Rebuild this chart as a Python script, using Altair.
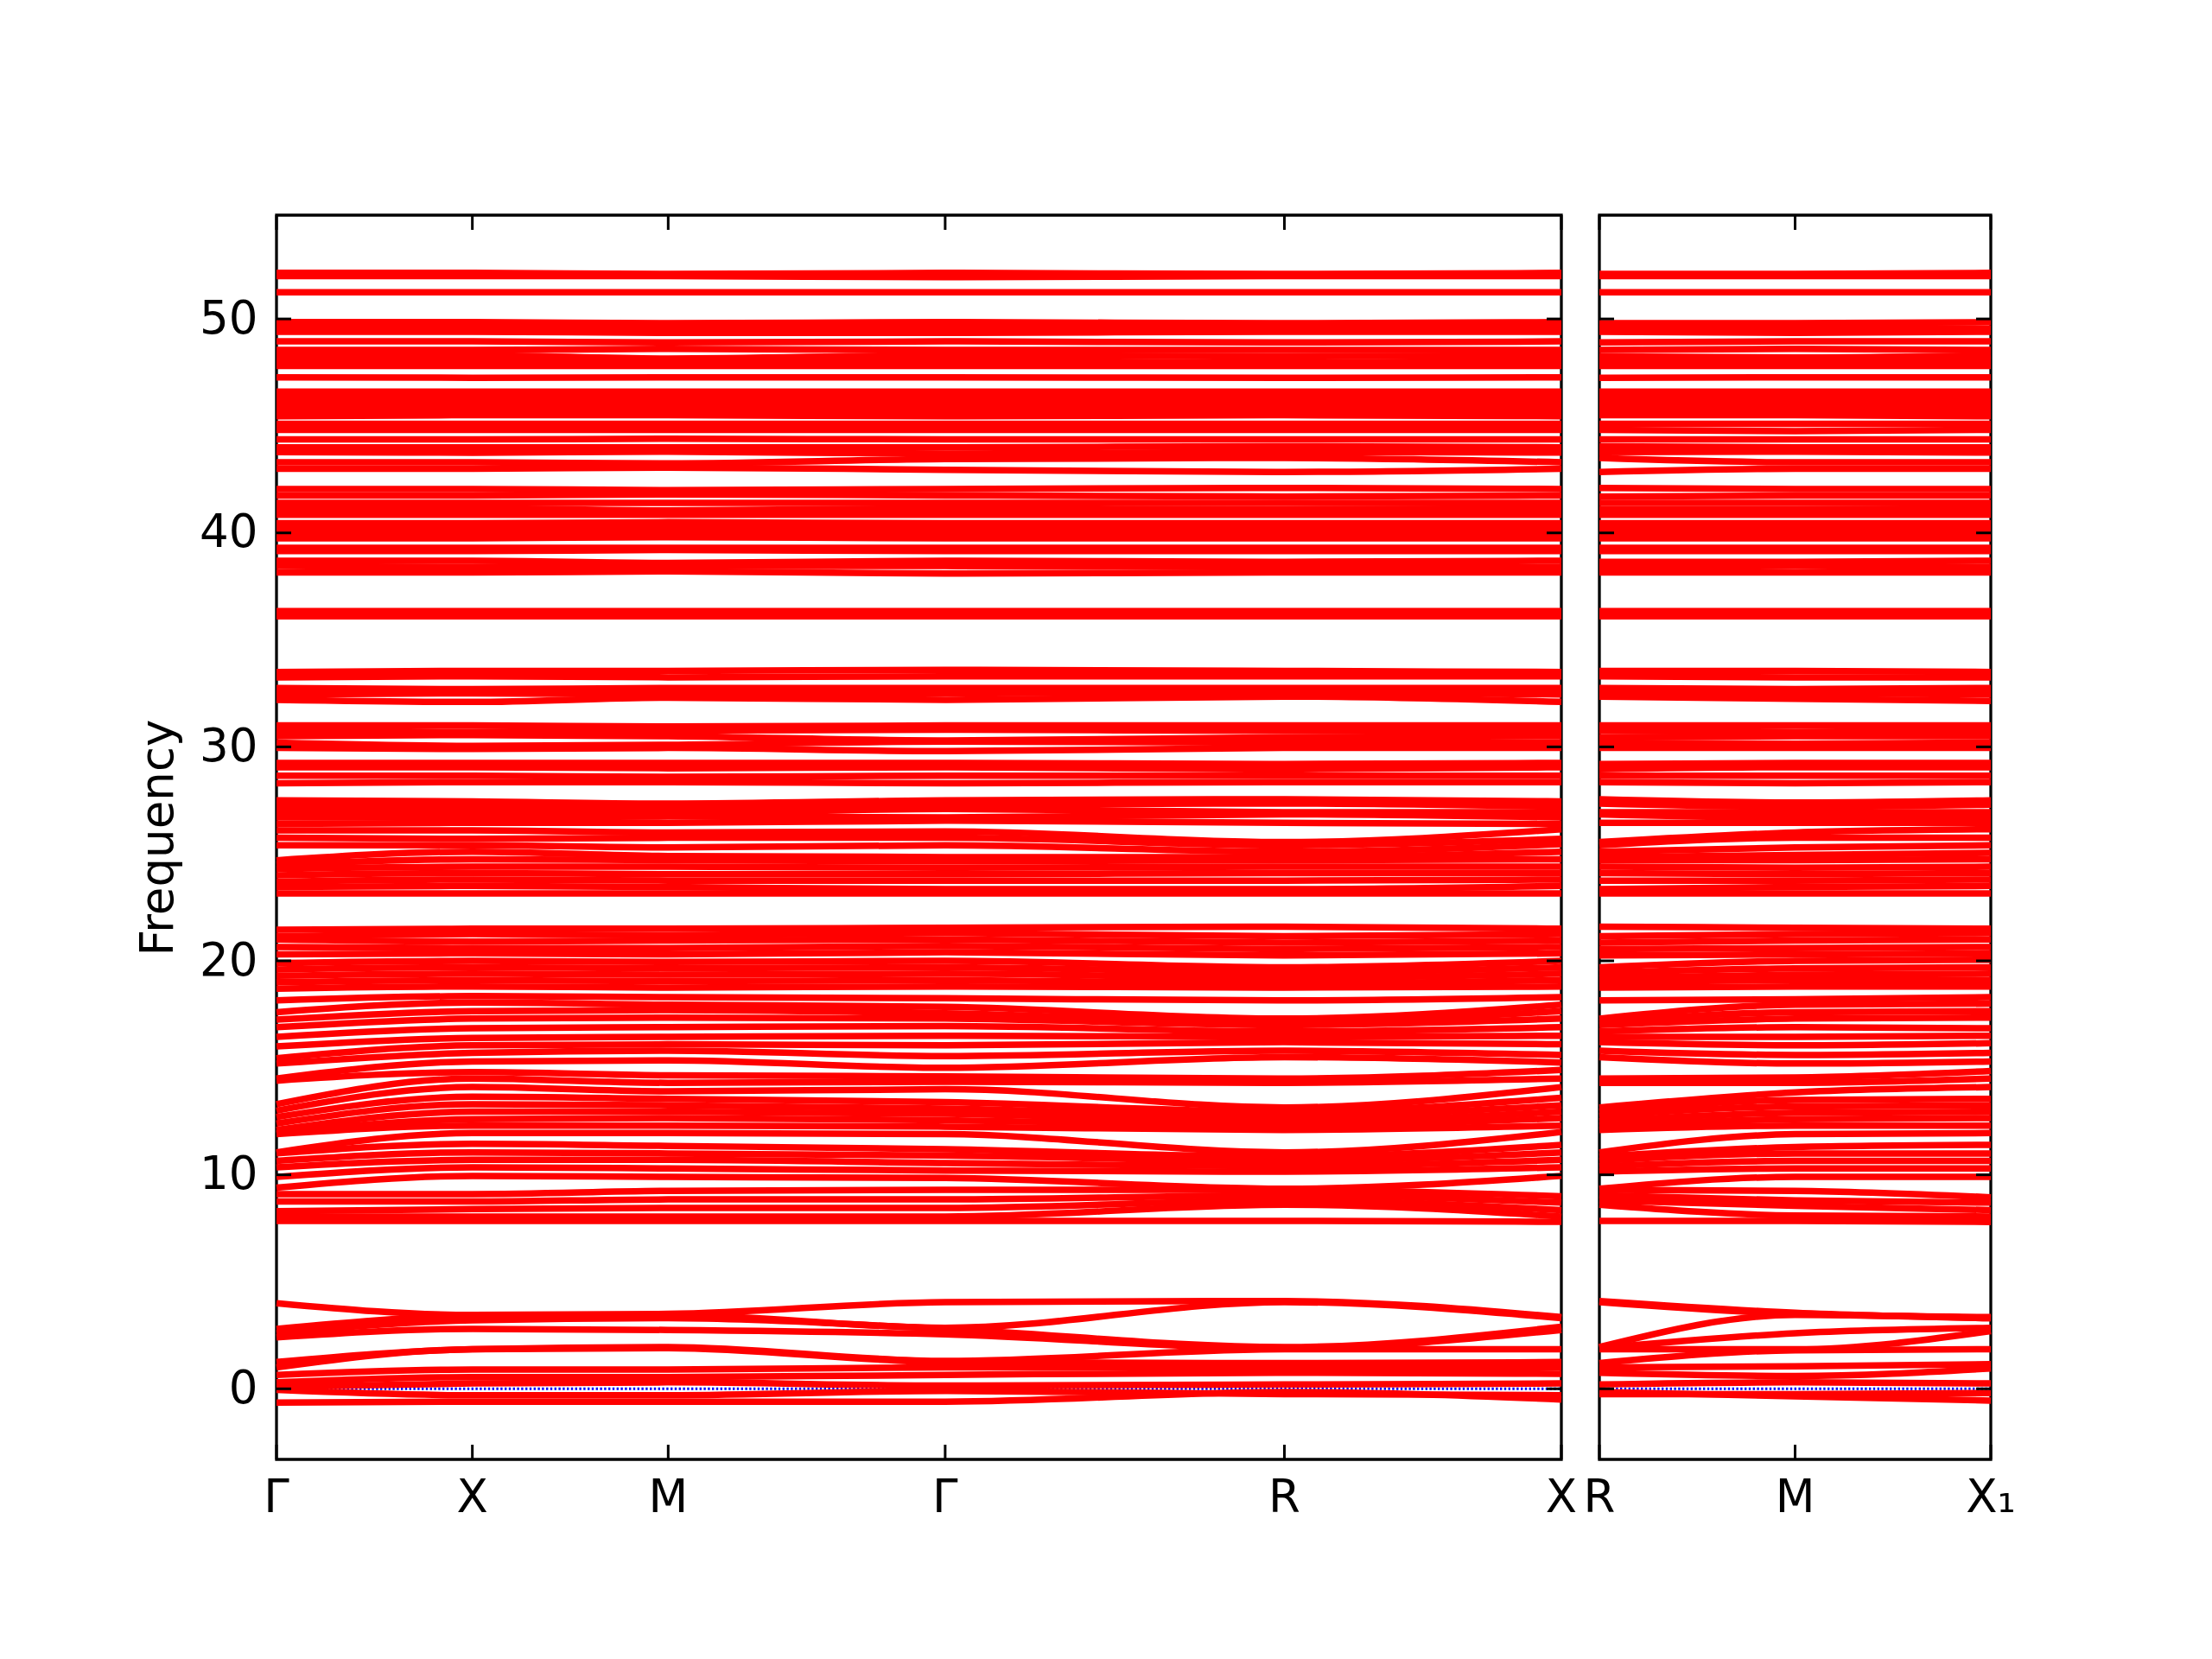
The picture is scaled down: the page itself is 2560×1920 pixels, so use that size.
import altair as alt
import pandas as pd

# ---- axes / labels ----
left_pos = [0.0, 1.0, 2.0, 3.4142, 5.1463, 6.5605]
left_labels = ["Γ", "X", "M", "Γ", "R", "X"]
right_pos = [0.0, 1.0, 2.0]
right_labels = ["R", "M", "X₁"]
y_ticks = [0, 10, 20, 30, 40, 50]
y_domain = [-3.3, 54.85]

# ---- bands: frequency at Γ, X, M, Γ, R, X (left panel), then M, X1 (right panel, which starts at R) ----
low_bands = [
    [-0.65, -0.6, -0.6, -0.6, -0.15, -0.5, -0.35, -0.55],
    [-0.05, -0.3, -0.3, -0.1, -0.25, -0.3, -0.25, -0.2],
    [0.1, 0.25, 0.3, 0.15, 0.2, 0.25, 0.3, 0.25],
    [0.3, 0.55, 0.55, 0.65, 0.75, 0.7, 0.6, 0.95],
    [0.65, 0.9, 0.9, 1.0, 1.0, 1.0, 1.05, 1.15],
    [1.0, 1.85, 1.9, 1.25, 1.2, 1.25, 1.8, 1.85],
    [1.25, 1.85, 1.95, 1.3, 1.85, 1.85, 1.85, 2.7],
    [2.4, 2.8, 2.75, 2.55, 1.9, 2.75, 2.6, 2.85],
    [2.6, 3.2, 3.3, 2.8, 1.95, 2.9, 3.45, 3.3],
    [2.8, 3.4, 3.45, 2.85, 4.05, 3.3, 3.5, 3.35],
    [4.0, 3.45, 3.5, 4.05, 4.1, 3.35, 3.55, 3.3],
]

optic_bands = [
    [7.85, 7.85, 7.85, 7.85, 7.85, 7.8, 7.85, 7.8],
    [8.05, 8.05, 8.05, 8.05, 8.6, 8.05, 8.1, 8.05],
    [8.3, 8.4, 8.45, 8.45, 8.8, 8.35, 8.55, 8.35],
    [8.75, 8.75, 8.85, 8.85, 9.05, 8.7, 8.8, 8.7],
    [9.1, 9.1, 9.25, 9.3, 9.3, 9.0, 9.25, 8.95],
    [9.4, 9.95, 9.9, 9.85, 9.35, 9.95, 9.9, 9.9],
    [9.9, 10.35, 10.3, 10.2, 10.15, 10.35, 10.3, 10.3],
    [10.35, 10.7, 10.7, 10.55, 10.4, 10.7, 10.65, 10.65],
    [10.65, 11.05, 11.0, 10.9, 10.65, 11.05, 11.0, 11.0],
    [11.0, 11.45, 11.35, 11.2, 10.85, 11.4, 11.3, 11.4],
    [11.05, 11.95, 11.95, 11.9, 11.05, 12.0, 11.9, 11.95],
    [11.9, 12.3, 12.3, 12.25, 12.1, 12.3, 12.3, 12.3],
    [11.95, 12.6, 12.65, 12.55, 12.3, 12.65, 12.6, 12.65],
    [12.1, 12.95, 12.95, 12.85, 12.5, 12.95, 12.9, 12.95],
    [12.4, 13.3, 13.25, 13.1, 12.75, 13.25, 13.2, 13.25],
    [12.7, 13.65, 13.55, 13.4, 12.95, 13.6, 13.5, 13.55],
    [13.0, 14.1, 13.9, 14.0, 13.15, 14.1, 13.85, 14.1],
    [13.3, 14.5, 14.3, 14.35, 14.3, 14.5, 14.3, 14.5],
    [14.4, 14.8, 14.65, 14.6, 14.5, 14.9, 14.55, 14.85],
    [14.5, 15.3, 15.35, 15.0, 15.5, 15.25, 15.2, 15.3],
    [15.2, 15.7, 15.8, 15.55, 15.8, 15.6, 15.6, 15.7],
    [15.45, 16.05, 16.1, 16.05, 16.2, 16.1, 16.05, 16.15],
    [16.0, 16.4, 16.45, 16.5, 16.45, 16.5, 16.45, 16.5],
    [16.45, 16.85, 16.9, 16.95, 16.7, 16.9, 16.9, 16.85],
    [16.9, 17.3, 17.35, 17.3, 17.0, 17.3, 17.3, 17.35],
    [17.25, 17.65, 17.7, 17.55, 17.15, 17.65, 17.6, 17.65],
    [17.6, 18.05, 17.95, 17.85, 17.3, 17.95, 17.95, 18.0],
    [18.15, 18.35, 18.3, 18.25, 18.15, 18.3, 18.2, 18.3],
    [18.7, 18.8, 18.75, 18.8, 18.75, 18.8, 18.8, 18.8],
    [19.0, 19.1, 19.05, 19.1, 18.95, 19.1, 19.1, 19.1],
    [19.3, 19.4, 19.35, 19.4, 19.2, 19.4, 19.35, 19.4],
    [19.6, 19.7, 19.65, 19.7, 19.45, 19.7, 19.65, 19.7],
    [19.9, 20.0, 19.95, 20.0, 19.7, 20.0, 20.0, 20.05],
    [20.3, 20.35, 20.3, 20.4, 20.25, 20.35, 20.3, 20.35],
    [20.65, 20.6, 20.6, 20.7, 20.55, 20.65, 20.6, 20.65],
    [21.0, 20.9, 20.95, 21.0, 20.85, 20.95, 20.95, 21.0],
    [21.15, 21.25, 21.2, 21.3, 21.15, 21.25, 21.25, 21.3],
    [21.45, 21.5, 21.5, 21.55, 21.6, 21.5, 21.55, 21.5],
]

mid_bands = [
    [23.15, 23.15, 23.15, 23.15, 23.15, 23.15, 23.15, 23.15],
    [23.45, 23.5, 23.45, 23.35, 23.35, 23.5, 23.45, 23.5],
    [23.7, 23.8, 23.75, 23.75, 23.75, 23.8, 23.75, 23.8],
    [24.0, 24.1, 24.05, 24.05, 24.1, 24.1, 24.05, 24.1],
    [24.3, 24.4, 24.4, 24.35, 24.4, 24.4, 24.35, 24.4],
    [24.5, 24.75, 24.7, 24.65, 24.7, 24.75, 24.7, 24.75],
    [24.7, 25.1, 24.9, 24.85, 24.85, 25.1, 24.95, 25.05],
    [25.4, 25.4, 25.3, 25.4, 25.1, 25.45, 25.3, 25.4],
    [25.75, 25.7, 25.75, 25.75, 25.4, 25.7, 25.75, 25.75],
    [26.1, 26.1, 26.0, 26.05, 25.55, 26.15, 26.0, 26.15],
    [26.4, 26.45, 26.45, 26.55, 26.45, 26.4, 26.45, 26.45],
    [26.7, 26.7, 26.75, 26.7, 26.85, 26.7, 26.7, 26.7],
    [26.95, 26.95, 26.9, 27.1, 26.95, 26.95, 26.95, 26.95],
    [27.2, 27.2, 27.15, 27.3, 27.35, 27.2, 27.2, 27.3],
    [27.5, 27.45, 27.35, 27.5, 27.55, 27.45, 27.4, 27.5],
    [28.3, 28.35, 28.35, 28.3, 28.35, 28.35, 28.3, 28.35],
    [28.65, 28.65, 28.6, 28.65, 28.65, 28.65, 28.65, 28.65],
    [29.05, 29.05, 29.0, 29.05, 28.95, 29.05, 29.05, 29.05],
    [29.25, 29.25, 29.25, 29.25, 29.2, 29.25, 29.25, 29.25],
    [29.95, 29.9, 29.95, 29.8, 29.95, 29.95, 29.95, 29.95],
    [30.2, 30.05, 30.1, 30.25, 30.2, 30.2, 30.15, 30.2],
    [30.5, 30.55, 30.5, 30.3, 30.45, 30.5, 30.5, 30.5],
    [30.75, 30.7, 30.75, 30.8, 30.75, 30.75, 30.7, 30.75],
    [31.0, 31.0, 30.95, 31.0, 31.0, 31.0, 31.0, 31.0],
    [32.2, 32.1, 32.3, 32.2, 32.35, 32.1, 32.25, 32.15],
    [32.45, 32.5, 32.45, 32.5, 32.55, 32.45, 32.5, 32.45],
    [32.75, 32.7, 32.75, 32.75, 32.75, 32.75, 32.7, 32.75],
    [33.25, 33.3, 33.25, 33.3, 33.3, 33.3, 33.25, 33.25],
    [33.5, 33.55, 33.55, 33.6, 33.55, 33.5, 33.55, 33.5],
]

top_bands = [
    [36.1, 36.1, 36.1, 36.1, 36.1, 36.1, 36.1, 36.1],
    [36.35, 36.35, 36.35, 36.35, 36.35, 36.35, 36.35, 36.35],
    [38.15, 38.15, 38.2, 38.1, 38.15, 38.15, 38.15, 38.15],
    [38.45, 38.4, 38.45, 38.45, 38.4, 38.4, 38.45, 38.4],
    [38.7, 38.7, 38.6, 38.7, 38.65, 38.7, 38.65, 38.7],
    [39.15, 39.15, 39.2, 39.15, 39.15, 39.15, 39.15, 39.15],
    [39.3, 39.3, 39.3, 39.3, 39.3, 39.3, 39.3, 39.3],
    [39.75, 39.75, 39.8, 39.75, 39.75, 39.75, 39.75, 39.75],
    [39.95, 39.95, 39.95, 39.95, 39.95, 39.95, 39.95, 39.95],
    [40.2, 40.2, 40.2, 40.2, 40.2, 40.2, 40.2, 40.2],
    [40.45, 40.45, 40.5, 40.45, 40.45, 40.45, 40.45, 40.45],
    [40.85, 40.85, 40.85, 40.85, 40.85, 40.85, 40.85, 40.85],
    [41.15, 41.15, 41.05, 41.15, 41.1, 41.15, 41.1, 41.15],
    [41.4, 41.4, 41.4, 41.4, 41.4, 41.4, 41.4, 41.4],
    [41.75, 41.75, 41.8, 41.75, 41.7, 41.75, 41.75, 41.75],
    [42.05, 42.05, 42.0, 42.05, 42.1, 42.05, 42.05, 42.05],
    [43.0, 43.0, 43.05, 42.95, 42.85, 43.0, 43.0, 43.0],
    [43.3, 43.3, 43.25, 43.45, 43.5, 43.3, 43.3, 43.3],
    [43.78, 43.75, 43.8, 43.7, 43.78, 43.75, 43.8, 43.75],
    [44.0, 44.0, 44.0, 44.0, 44.05, 44.0, 44.0, 44.0],
    [44.37, 44.37, 44.4, 44.37, 44.37, 44.37, 44.37, 44.37],
    [44.82, 44.82, 44.82, 44.82, 44.82, 44.82, 44.75, 44.82],
    [45.1, 45.1, 45.1, 45.1, 45.1, 45.1, 45.1, 45.1],
    [45.45, 45.5, 45.5, 45.45, 45.5, 45.45, 45.5, 45.45],
    [45.6, 45.6, 45.65, 45.6, 45.6, 45.6, 45.6, 45.6],
    [45.85, 45.85, 45.85, 45.85, 45.85, 45.85, 45.85, 45.85],
    [46.1, 46.1, 46.1, 46.1, 46.1, 46.1, 46.1, 46.1],
    [46.35, 46.35, 46.35, 46.35, 46.35, 46.35, 46.35, 46.35],
    [46.6, 46.6, 46.6, 46.6, 46.6, 46.6, 46.6, 46.6],
    [47.27, 47.25, 47.27, 47.27, 47.25, 47.27, 47.27, 47.27],
    [47.8, 47.8, 47.8, 47.8, 47.8, 47.8, 47.8, 47.8],
    [48.05, 48.05, 48.0, 48.05, 47.95, 48.05, 48.0, 48.0],
    [48.3, 48.3, 48.15, 48.3, 48.25, 48.3, 48.2, 48.3],
    [48.55, 48.55, 48.6, 48.55, 48.55, 48.55, 48.6, 48.55],
    [48.95, 48.95, 48.9, 48.95, 48.9, 48.95, 48.95, 48.95],
    [49.4, 49.4, 49.35, 49.35, 49.4, 49.4, 49.35, 49.4],
    [49.6, 49.6, 49.55, 49.6, 49.55, 49.6, 49.6, 49.55],
    [49.85, 49.85, 49.8, 49.85, 49.8, 49.85, 49.8, 49.85],
    [51.25, 51.25, 51.25, 51.25, 51.25, 51.25, 51.25, 51.25],
    [52.0, 52.0, 52.0, 51.95, 52.0, 52.0, 52.0, 52.0],
    [52.15, 52.15, 52.1, 52.15, 52.1, 52.15, 52.1, 52.15],
]

bands = low_bands + optic_bands + mid_bands + top_bands

FONT = "DejaVu Sans"
FS = 53
W_LEFT, W_RIGHT, H = 1487, 453, 1440
TICK = 17


def build_panel(pos, labels, value_idx, width, show_y):
    rows = []
    for bi, band in enumerate(bands):
        for k, vi in enumerate(value_idx):
            rows.append({"band": bi, "x": pos[k], "freq": band[vi]})
    df = pd.DataFrame(rows)

    xs = alt.Scale(domain=[pos[0], pos[-1]], nice=False, zero=False)
    ys = alt.Scale(domain=y_domain, nice=False, zero=False)
    if show_y:
        yax = alt.Axis(values=y_ticks, ticks=False, tickSize=0, domain=False, grid=False,
                       labelFont=FONT, labelFontSize=FS, labelColor="black", labelPadding=22,
                       title="Frequency", titleFont=FONT, titleFontSize=FS,
                       titleFontWeight="normal", titleColor="black", titlePadding=20)
    else:
        yax = None

    zero = alt.Chart(pd.DataFrame({"freq": [0]})).mark_rule(
        color="#0000ff", strokeWidth=3, strokeDash=[2.4, 2.4]
    ).encode(y=alt.Y("freq:Q", scale=ys, axis=yax), x=alt.value(0), x2=alt.value(width))

    lines = alt.Chart(df).mark_line(
        color="#ff0000", strokeWidth=7.5, interpolate="monotone"
    ).encode(
        x=alt.X("x:Q", scale=xs, axis=None),
        y=alt.Y("freq:Q", scale=ys, axis=yax),
        detail="band:N",
    )

    yt = pd.DataFrame({"freq": y_ticks})
    ytick_l = alt.Chart(yt).mark_rule(color="black", strokeWidth=3).encode(
        y=alt.Y("freq:Q", scale=ys, axis=yax), x=alt.value(0), x2=alt.value(TICK))
    ytick_r = alt.Chart(yt).mark_rule(color="black", strokeWidth=3).encode(
        y=alt.Y("freq:Q", scale=ys, axis=yax), x=alt.value(width - TICK), x2=alt.value(width))

    xt = pd.DataFrame({"x": pos, "label": labels})
    xtick_b = alt.Chart(xt).mark_rule(color="black", strokeWidth=3).encode(
        x=alt.X("x:Q", scale=xs, axis=None), y=alt.value(H), y2=alt.value(H - TICK))
    xtick_t = alt.Chart(xt).mark_rule(color="black", strokeWidth=3).encode(
        x=alt.X("x:Q", scale=xs, axis=None), y=alt.value(0), y2=alt.value(TICK))
    xlab = alt.Chart(xt).mark_text(
        font=FONT, fontSize=FS, baseline="alphabetic", align="center", color="black"
    ).encode(x=alt.X("x:Q", scale=xs, axis=None), y=alt.value(H + 61), text="label:N")

    return alt.layer(zero, lines, ytick_l, ytick_r, xtick_b, xtick_t, xlab).properties(
        width=width, height=H)


left = build_panel(left_pos, left_labels, [0, 1, 2, 3, 4, 5], W_LEFT, True)
right = build_panel(right_pos, right_labels, [4, 6, 7], W_RIGHT, False)

chart = alt.hconcat(left, right, spacing=44, bounds="flush").properties(
    padding={"left": 147, "top": 237, "right": 60, "bottom": 60}
).configure_view(stroke="black", strokeWidth=3.3)

chart.save("out.html", embed_options={"renderer": "svg", "actions": False})
